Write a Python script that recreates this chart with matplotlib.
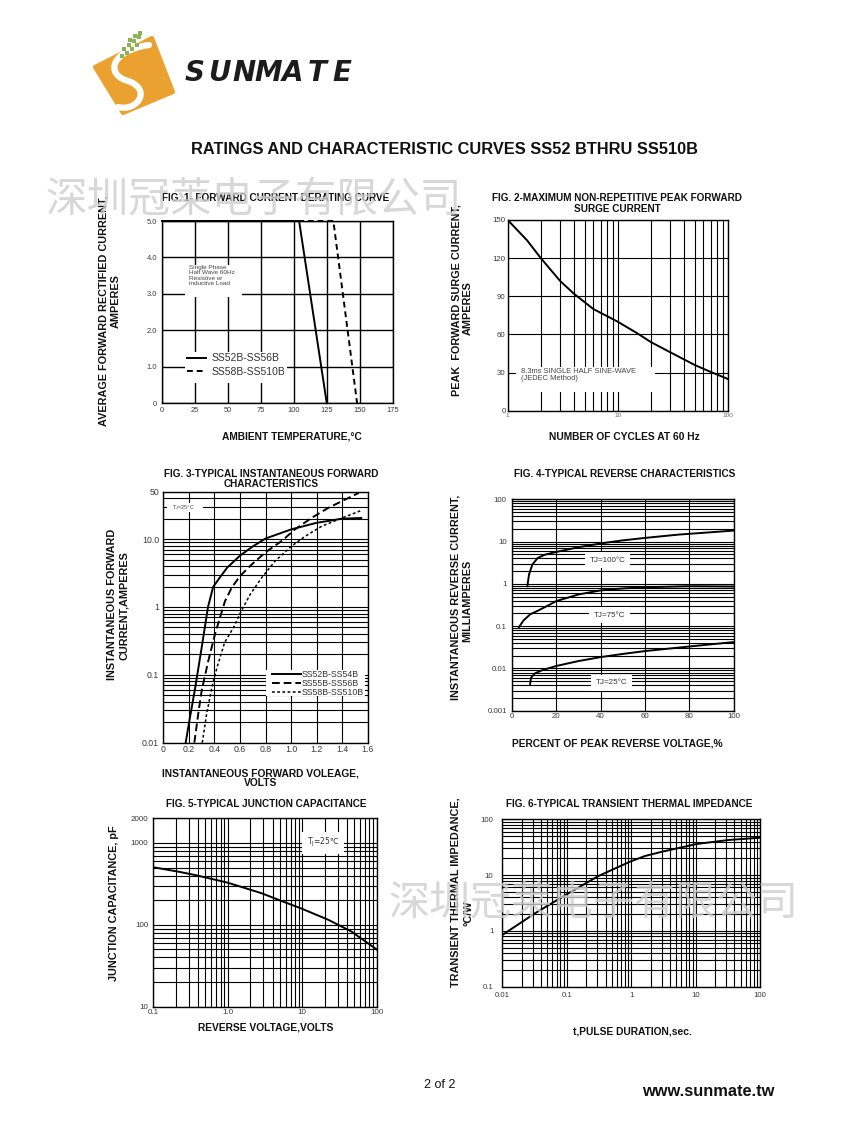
import numpy as np
import matplotlib
matplotlib.use("Agg")
from matplotlib import pyplot as plt
from matplotlib.patches import Polygon, Rectangle, PathPatch
from matplotlib.path import Path
from matplotlib.ticker import LogLocator, NullFormatter

W, H = 847, 1125

# FIG. 1 - forward current derating
derate_temp_52_56 = [0, 104, 125]
derate_amp_52_56 = [5.0, 5.0, 0.0]
derate_temp_58_510 = [0, 130, 148]
derate_amp_58_510 = [5.0, 5.0, 0.0]
derate_xticks = [0, 25, 50, 75, 100, 125, 150, 175]
derate_yticks = [0, 1, 2, 3, 4, 5]
derate_ylabels = ["0", "1.0", "2.0", "3.0", "4.0", "5.0"]

# FIG. 2 - peak forward surge current
surge_cycles = [1, 1.5, 2, 3, 4, 6, 10, 15, 20, 30, 50, 70, 100]
surge_amps = [150, 134, 120, 102, 92, 80, 70, 61, 54, 46, 36, 30.5, 25]
surge_yticks = [0, 30, 60, 90, 120, 150]

# FIG. 3 - instantaneous forward characteristics
vf_52_54 = [0.175, 0.20, 0.25, 0.30, 0.35, 0.39, 0.45, 0.50, 0.60, 0.70, 0.80, 1.00, 1.20, 1.40, 1.55]
if_52_54 = [0.01, 0.019, 0.065, 0.25, 1.0, 1.97, 2.85, 3.8, 5.7, 7.8, 10.2, 13.9, 17.4, 20.0, 20.5]
vf_55_56 = [0.243, 0.274, 0.30, 0.352, 0.405, 0.444, 0.483, 0.535, 0.60, 0.69, 0.80, 0.93, 1.03,
            1.16, 1.29, 1.42, 1.53]
if_55_56 = [0.01, 0.027, 0.058, 0.16, 0.40, 0.70, 1.22, 1.92, 2.85, 4.2, 6.4, 9.5, 13.9,
            20.5, 28.8, 38, 48]
vf_58_510 = [0.305, 0.34, 0.38, 0.42, 0.48, 0.55, 0.61, 0.68, 0.77, 0.875, 1.005, 1.11, 1.24, 1.40, 1.55]
if_58_510 = [0.01, 0.027, 0.065, 0.128, 0.30, 0.50, 0.87, 1.53, 2.7, 4.75, 7.9, 11, 15.5, 20.5, 26.5]
fwd_xticks = [0, 0.2, 0.4, 0.6, 0.8, 1.0, 1.2, 1.4, 1.6]
fwd_xlabels = ["0", "0.2", "0.4", "0.6", "0.8", "1.0", "1.2", "1.4", "1.6"]
fwd_yticks = [0.01, 0.1, 1, 10, 50]
fwd_ylabels = ["0.01", "0.1", "1", "10.0", "50"]

# FIG. 4 - reverse characteristics
rev_pct_100 = [7.06, 7.8, 9.3, 11.7, 15, 19.5, 30, 40.5, 49.5, 60, 75, 100]
rev_ma_100 = [0.88, 1.66, 2.86, 4.1, 4.9, 5.6, 7.35, 9.1, 10.6, 12.2, 14.6, 18.2]
rev_pct_75 = [3.3, 5.3, 8.3, 12, 16.5, 20, 30, 40, 50, 60, 80, 100]
rev_ma_75 = [0.095, 0.136, 0.19, 0.235, 0.31, 0.39, 0.56, 0.70, 0.78, 0.83, 0.88, 0.865]
rev_pct_25 = [8.3, 8.7, 10.2, 13.5, 20, 30, 40, 50, 60, 80, 100]
rev_ma_25 = [0.0043, 0.006, 0.0075, 0.009, 0.0114, 0.0149, 0.0185, 0.022, 0.0257, 0.033, 0.042]
rev_xticks = [0, 20, 40, 60, 80, 100]
rev_yticks = [0.001, 0.01, 0.1, 1, 10, 100]
rev_ylabels = ["0.001", "0.01", "0.1", "1", "10", "100"]

# FIG. 5 - junction capacitance
cap_volts = [0.1, 0.217, 0.363, 1.0, 2.85, 5.3, 9.6, 22.5, 46, 100]
cap_pf = [505, 446, 406, 327, 243, 195, 159, 115, 82.5, 50]
cap_xticks = [0.1, 1, 10, 100]
cap_xlabels = ["0.1", "1.0", "10", "100"]
cap_yticks = [10, 100, 1000, 2000]
cap_ylabels = ["10", "100", "1000", "2000"]

# FIG. 6 - transient thermal impedance
pulse_sec = [0.01, 0.0322, 0.1, 0.309, 0.96, 1.64, 3.0, 10.4, 32.6, 100]
thermal_cw = [0.845, 2.07, 4.53, 9.6, 17.4, 22, 26.2, 36.1, 42.6, 46.8]
pulse_xticks = [0.01, 0.1, 1, 10, 100]
pulse_xlabels = ["0.01", "0.1", "1", "10", "100"]
thermal_yticks = [0.1, 1, 10, 100]
thermal_ylabels = ["0.1", "1", "10", "100"]

plt.rcParams["font.family"] = ["Liberation Sans", "DejaVu Sans"]
TICK_COLOR = "#3a3a3a"

fig = plt.figure(figsize=(W / 100, H / 100), dpi=100)


def axes_px(left, top, right, bottom):
    return fig.add_axes([left / W, 1 - bottom / H, (right - left) / W, (bottom - top) / H])


def fig_text(x, y, s, **kw):
    kw.setdefault("ha", "center")
    kw.setdefault("va", "center")
    return fig.text(x / W, 1 - y / H, s, **kw)


def base_style(ax, size, xpad, ypad):
    for sp in ax.spines.values():
        sp.set_linewidth(1.0)
    ax.tick_params(which="both", length=0, labelsize=size, colors=TICK_COLOR)
    ax.tick_params(axis="x", pad=xpad)
    ax.tick_params(axis="y", pad=ypad)
    ax.set_axisbelow(True)


def log_minor(axis):
    axis.set_minor_locator(LogLocator(base=10, subs=np.arange(2, 10), numticks=60))
    axis.set_minor_formatter(NullFormatter())


def bold(x, y, s, size=7.2, rot=0):
    fig_text(x, y, s, fontsize=size, fontweight="bold", rotation=rot, color="#111111")


YL = 7.8   # y-label size
XL = 7.4   # x-label size

# ---------------- page header: logo + title ----------------
bg = fig.add_axes([0, 0, 1, 1], zorder=-1)
bg.set_xlim(0, W)
bg.set_ylim(H, 0)
bg.axis("off")
bg.add_patch(Polygon([(95, 67), (152, 38), (173, 92), (123, 113)], closed=True,
                     fc="#EAA12F", ec="#EAA12F", lw=3, joinstyle="round"))
s_path = Path([(149, 45), (112, 50), (104, 74), (128, 81), (152, 89), (138, 112), (118, 107)],
              [Path.MOVETO, Path.CURVE4, Path.CURVE4, Path.CURVE4, Path.CURVE4, Path.CURVE4, Path.CURVE4])
bg.add_patch(PathPatch(s_path, fc="none", ec="white", lw=4.5, capstyle="round"))
bg.scatter([124, 129, 134, 139, 127, 132, 137, 130, 135, 140, 122],
           [49, 45, 41, 37, 53, 49, 45, 40, 36, 33, 56],
           marker="s", s=5, color="#8DB255", lw=0)
for i, ch in enumerate("SUNMATE"):
    fig_text(195 + i * 24.5, 73, ch, fontsize=20, fontweight="bold", style="italic",
             family="DejaVu Sans", color="#1c1c1c")

bold(444.5, 150, "RATINGS AND CHARACTERISTIC CURVES SS52 BTHRU SS510B", size=11.8)

# ---------------- FIG. 1 ----------------
ax1 = axes_px(162, 221, 392.7, 403.3)
base_style(ax1, 5.4, 3.0, 3.6)
ax1.set_xlim(0, 175)
ax1.set_ylim(0, 5)
ax1.set_xticks(derate_xticks)
ax1.set_yticks(derate_yticks)
ax1.set_yticklabels(derate_ylabels)
ax1.grid(color="black", lw=1.0)
ax1.add_patch(Rectangle((17.6, 2.92), 43.3, 0.87, fc="white", ec="none"))
ax1.text(20.5, 3.80, "Single Phase\nHalf Wave 60Hz\nResistive or\ninductive Load",
         fontsize=4.6, color="#444444", va="top", ha="left", linespacing=1.12)
ax1.add_patch(Rectangle((17.5, 0.57), 77, 0.83, fc="white", ec="none"))
ln_a, = ax1.plot(derate_temp_52_56, derate_amp_52_56, color="black", lw=1.4, clip_on=False,
                 label="SS52B-SS56B")
ln_b, = ax1.plot(derate_temp_58_510, derate_amp_58_510, color="black", lw=1.4, clip_on=False,
                 dashes=(3, 2), label="SS58B-SS510B")
leg1 = ax1.legend(handles=[ln_a, ln_b], loc="upper left", bbox_to_anchor=(18.7, 1.37),
                  bbox_transform=ax1.transData, frameon=False, fontsize=7.5, borderpad=0,
                  borderaxespad=0, handlelength=1.9, handletextpad=0.45, labelspacing=0.35)
for t in leg1.get_texts():
    t.set_color("#333333")
bold(275.5, 198, "FIG. 1- FORWARD CURRENT DERATING CURVE")
bold(292, 437, "AMBIENT TEMPERATURE,°C", size=XL)
bold(103, 311, "AVERAGE FORWARD RECTIFIED CURRENT,", size=YL, rot=90)
bold(116, 301, "AMPERES", size=YL, rot=90)

# ---------------- FIG. 2 ----------------
ax2 = axes_px(507.7, 220, 727.7, 410.7)
base_style(ax2, 5.7, 2.0, 1.5)
ax2.set_xscale("log")
ax2.set_xlim(1, 100)
ax2.set_ylim(0, 150)
ax2.set_xticks([1, 10, 100])
ax2.set_xticklabels(["1", "10", "100"])
log_minor(ax2.xaxis)
ax2.tick_params(axis="x", labelsize=4.6, colors="#666666")
ax2.set_yticks(surge_yticks)
ax2.grid(which="both", axis="x", color="black", lw=0.8)
ax2.grid(which="major", axis="y", color="black", lw=0.8)
ax2.add_patch(Rectangle((1.2, 15), 20.8, 19.6, fc="white", ec="none"))
ax2.text(1.33, 33.8, "8.3ms SINGLE HALF SINE-WAVE\n(JEDEC Method)", fontsize=5.4,
         color="#444444", va="top", ha="left", linespacing=1.15)
ax2.plot(surge_cycles, surge_amps, color="black", lw=1.4)
bold(616.5, 198, "FIG. 2-MAXIMUM NON-REPETITIVE PEAK FORWARD")
bold(617, 209, "SURGE CURRENT")
bold(624, 437, "NUMBER OF CYCLES AT 60 Hz", size=XL)
bold(456, 300, "PEAK  FORWARD SURGE CURRENT,", size=YL, rot=90)
bold(468, 308, "AMPERES", size=YL, rot=90)

# ---------------- FIG. 3 ----------------
ax3 = axes_px(163.3, 491.7, 367.7, 742.7)
base_style(ax3, 6.3, 1.5, 3.0)
ax3.set_yscale("log")
ax3.set_xlim(0, 1.6)
ax3.set_ylim(0.01, 50)
ax3.set_xticks(fwd_xticks)
ax3.set_xticklabels(fwd_xlabels)
ax3.set_yticks(fwd_yticks)
ax3.set_yticklabels(fwd_ylabels)
log_minor(ax3.yaxis)
ax3.grid(which="both", color="black", lw=0.8)
ax3.add_patch(Rectangle((0.03, 25), 0.28, 9.5, fc="white", ec="none"))
ax3.text(0.07, 29, "T$_\\mathregular{J}$=25°C", fontsize=4, color="#444444", va="center", ha="left")
ax3.add_patch(Rectangle((0.80, 0.049), 0.78, 0.069, fc="white", ec="none"))
f_a, = ax3.plot(vf_52_54, if_52_54, color="black", lw=1.4, label="SS52B-SS54B")
f_b, = ax3.plot(vf_55_56, if_55_56, color="black", lw=1.4, dashes=(4, 2), label="SS55B-SS56B")
f_c, = ax3.plot(vf_58_510, if_58_510, color="black", lw=1.1, dashes=(1.8, 1.6), label="SS58B-SS510B")
leg3 = ax3.legend(handles=[f_a, f_b, f_c], loc="upper left", bbox_to_anchor=(0.85, 0.116),
                  bbox_transform=ax3.transData, frameon=False, fontsize=6.3, borderpad=0,
                  borderaxespad=0, handlelength=3.3, handletextpad=0.1, labelspacing=-0.05)
for t in leg3.get_texts():
    t.set_color("#333333")
bold(271, 474, "FIG. 3-TYPICAL INSTANTANEOUS FORWARD")
bold(271, 484, "CHARACTERISTICS")
bold(260, 773, "INSTANTANEOUS FORWARD VOLEAGE,", size=XL)
bold(261, 783, "VOLTS", size=XL)
bold(112, 604, "INSTANTANEOUS FORWARD", size=YL, rot=90)
bold(124, 606, "CURRENT,AMPERES", size=YL, rot=90)

# ---------------- FIG. 4 ----------------
ax4 = axes_px(511.7, 499.3, 733.7, 710.7)
base_style(ax4, 5.7, 2.0, 3.6)
ax4.set_yscale("log")
ax4.set_xlim(0, 100)
ax4.set_ylim(0.001, 100)
ax4.set_xticks(rev_xticks)
ax4.set_yticks(rev_yticks)
ax4.set_yticklabels(rev_ylabels)
log_minor(ax4.yaxis)
ax4.grid(which="both", color="black", lw=0.8)
ax4.plot(rev_pct_100, rev_ma_100, color="black", lw=1.4)
ax4.plot(rev_pct_75, rev_ma_75, color="black", lw=1.4)
ax4.plot(rev_pct_25, rev_ma_25, color="black", lw=1.4)
label_box = dict(boxstyle="square,pad=0.55", fc="white", ec="none")
ax4.text(43.2, 3.6, "TJ=100°C", fontsize=5.8, color="#333333", ha="center", va="center", bbox=label_box)
ax4.text(44, 0.18, "TJ=75°C", fontsize=5.8, color="#333333", ha="center", va="center", bbox=label_box)
ax4.text(45, 0.0046, "TJ=25°C", fontsize=5.8, color="#333333", ha="center", va="center", bbox=label_box)
bold(624.8, 474, "FIG. 4-TYPICAL REVERSE CHARACTERISTICS")
bold(617, 743, "PERCENT OF PEAK REVERSE VOLTAGE,%", size=XL)
bold(455, 597, "INSTANTANEOUS REVERSE CURRENT,", size=YL, rot=90)
bold(467, 601, "MILLIAMPERES", size=YL, rot=90)

# ---------------- FIG. 5 ----------------
ax5 = axes_px(153.3, 818.3, 376.7, 1006.7)
base_style(ax5, 5.8, 2.0, 3.6)
ax5.set_xscale("log")
ax5.set_yscale("log")
ax5.set_xlim(0.1, 100)
ax5.set_ylim(10, 2000)
ax5.set_xticks(cap_xticks)
ax5.set_xticklabels(cap_xlabels)
ax5.set_yticks(cap_yticks)
ax5.set_yticklabels(cap_ylabels)
log_minor(ax5.xaxis)
log_minor(ax5.yaxis)
ax5.grid(which="both", color="black", lw=0.8)
ax5.plot(cap_volts, cap_pf, color="black", lw=1.4)
ax5.text(19, 1000, "T$_\\mathregular{J}$=25℃", fontsize=5.5, color="#333333", ha="center",
         va="center", family=["DejaVu Sans"],
         bbox=dict(boxstyle="square,pad=0.6", fc="white", ec="none"))
bold(266.7, 804, "FIG. 5-TYPICAL JUNCTION CAPACITANCE")
bold(265.3, 1027, "REVERSE VOLTAGE,VOLTS", size=XL)
bold(114, 903, "JUNCTION CAPACITANCE, pF", size=YL, rot=90)

# ---------------- FIG. 6 ----------------
ax6 = axes_px(502.3, 819.3, 760, 986.7)
base_style(ax6, 5.6, 4.0, 6.5)
ax6.set_xscale("log")
ax6.set_yscale("log")
ax6.set_xlim(0.01, 100)
ax6.set_ylim(0.1, 100)
ax6.set_xticks(pulse_xticks)
ax6.set_xticklabels(pulse_xlabels)
ax6.set_yticks(thermal_yticks)
ax6.set_yticklabels(thermal_ylabels)
log_minor(ax6.xaxis)
log_minor(ax6.yaxis)
ax6.grid(which="both", color="black", lw=0.8)
ax6.plot(pulse_sec, thermal_cw, color="black", lw=1.4)
bold(629.5, 804, "FIG. 6-TYPICAL TRANSIENT THERMAL IMPEDANCE")
bold(632.5, 1031, "t,PULSE DURATION,sec.", size=XL)
bold(455, 892, "TRANSIENT THERMAL IMPEDANCE,", size=YL, rot=90)
bold(468, 913, "°C/W", size=YL, rot=90)

# ---------------- watermark + footer ----------------
wm = "深圳冠莱电子有限公司"
fig_text(45, 200, wm, ha="left", fontsize=30, family=["Noto Sans CJK SC"], color="#cdcdcd", alpha=0.8)
fig_text(388, 903, wm, ha="left", fontsize=29.5, family=["Noto Sans CJK SC"], color="#cdcdcd", alpha=0.8)

fig_text(439.7, 1085, "2 of 2", fontsize=9, color="#111111")
fig_text(708.5, 1092, "www.sunmate.tw", fontsize=11.8, fontweight="bold", color="#111111")

fig.savefig("out.png", dpi=100)
